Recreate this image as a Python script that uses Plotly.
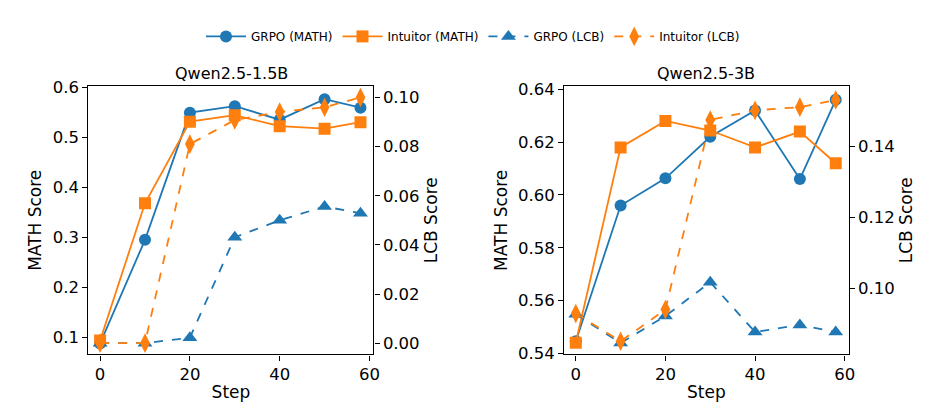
import plotly.graph_objects as go

steps = [0, 10, 20, 30, 40, 50, 58]
# Qwen2.5-1.5B
grpo_math_15 = [0.088, 0.295, 0.549, 0.562, 0.535, 0.576, 0.559]
intu_math_15 = [0.094, 0.368, 0.531, 0.544, 0.522, 0.517, 0.530]
grpo_lcb_15 = [0.0, 0.0, 0.0022, 0.0431, 0.050, 0.0556, 0.0529]
intu_lcb_15 = [0.0, 0.0, 0.081, 0.0908, 0.0941, 0.096, 0.100]
# Qwen2.5-3B
grpo_math_3 = [0.5446, 0.596, 0.6063, 0.622, 0.632, 0.606, 0.636]
intu_math_3 = [0.544, 0.618, 0.628, 0.6244, 0.618, 0.624, 0.612]
grpo_lcb_3 = [0.0928, 0.0847, 0.0923, 0.1018, 0.0878, 0.0898, 0.0878]
intu_lcb_3 = [0.093, 0.0852, 0.0941, 0.1474, 0.1501, 0.151, 0.153]

BLUE = "#1f77b4"; ORANGE = "#ff7f0e"
fig = go.Figure()
SIZES = {"circle": 12, "square": 12, "triangle-up": 13, "diamond-tall": 14}

def add(y, name, color, sym, dash, xa, ya, show):
    fig.add_trace(go.Scatter(x=steps, y=y, name=name, mode="lines+markers",
        line=dict(color=color, width=1.8, dash=dash),
        marker=dict(color=color, symbol=sym, size=SIZES[sym]),
        xaxis=xa, yaxis=ya, showlegend=show))

add(grpo_math_15, "GRPO (MATH)", BLUE, "circle", "solid", "x", "y", True)
add(intu_math_15, "Intuitor (MATH)", ORANGE, "square", "solid", "x", "y", True)
add(grpo_lcb_15, "GRPO (LCB)", BLUE, "triangle-up", "dash", "x", "y2", True)
add(intu_lcb_15, "Intuitor (LCB)", ORANGE, "diamond-tall", "dash", "x", "y2", True)
add(grpo_math_3, "GRPO (MATH)", BLUE, "circle", "solid", "x2", "y3", False)
add(intu_math_3, "Intuitor (MATH)", ORANGE, "square", "solid", "x2", "y3", False)
add(grpo_lcb_3, "GRPO (LCB)", BLUE, "triangle-up", "dash", "x2", "y4", False)
add(intu_lcb_3, "Intuitor (LCB)", ORANGE, "diamond-tall", "dash", "x2", "y4", False)

ax = dict(showline=True, linecolor="black", linewidth=1.2, ticks="outside", ticklen=5,
          tickcolor="black", showgrid=False, zeroline=False, tickfont=dict(size=16.5, color="black"))
tf = dict(size=17, color="black")
fig.update_layout(
    width=936, height=411, margin=dict(l=0, r=0, t=0, b=0),
    plot_bgcolor="white", paper_bgcolor="white",
    font=dict(family="DejaVu Sans", color="black"),
    legend=dict(orientation="h", x=0.5, xanchor="center", y=0.985, yanchor="top",
                font=dict(size=12), itemwidth=40),
    xaxis=dict(**ax, domain=[0.0865, 0.393], range=[-2.6, 60.9], dtick=20, mirror=True,
               title=dict(text="Step", font=tf, standoff=2), anchor="y"),
    xaxis2=dict(**ax, domain=[0.598, 0.904], range=[-2.6, 60.9], dtick=20, mirror=True,
                title=dict(text="Step", font=tf, standoff=2), anchor="y3"),
    yaxis=dict(**ax, domain=[0.141, 0.822], range=[0.066, 0.602], dtick=0.1, tickformat=".1f",
               title=dict(text="MATH Score", font=tf, standoff=6), anchor="x"),
    yaxis2=dict(**ax, overlaying="y", side="right", anchor="x", range=[-0.0046, 0.1046],
                dtick=0.02, tickformat=".2f", title=dict(text="LCB Score", font=tf, standoff=6)),
    yaxis3=dict(**ax, domain=[0.141, 0.822], range=[0.5396, 0.6412], dtick=0.02, tickformat=".2f",
                title=dict(text="MATH Score", font=tf, standoff=6), anchor="x2"),
    yaxis4=dict(**ax, overlaying="y3", side="right", anchor="x2", range=[0.0815, 0.1569],
                dtick=0.02, tickformat=".2f", title=dict(text="LCB Score", font=tf, standoff=6)),
    annotations=[
        dict(text="Qwen2.5-1.5B", x=0.24, y=0.826, xref="paper", yref="paper",
             xanchor="center", yanchor="bottom", showarrow=False, font=dict(size=16)),
        dict(text="Qwen2.5-3B", x=0.751, y=0.826, xref="paper", yref="paper",
             xanchor="center", yanchor="bottom", showarrow=False, font=dict(size=16)),
    ],
)
fig.write_html("out.html")
